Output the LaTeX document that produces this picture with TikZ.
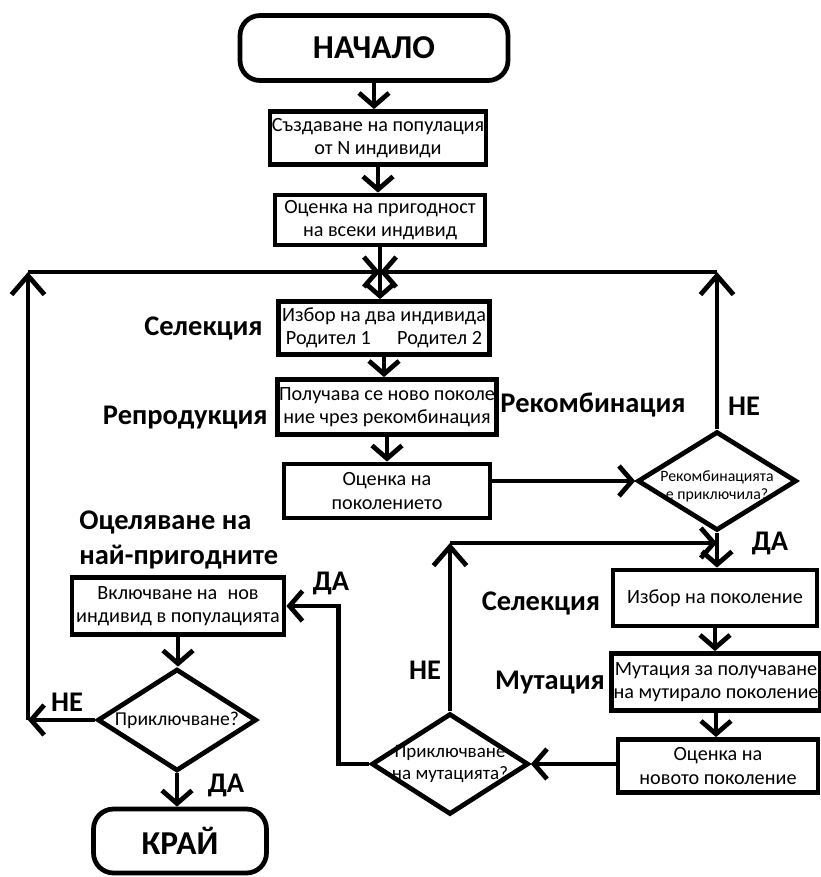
\documentclass[tikz,border=0pt]{standalone}
\usepackage{fontspec}
\setmainfont{Carlito}
\usetikzlibrary{arrows.meta,shapes.geometric}
\begin{document}
\begin{tikzpicture}[x=0.02cm, y=-0.02cm, line width=0.095cm]
\tikzstyle{box}=[draw, inner sep=1pt, align=center, font=\fontsize{11.5}{13.2}\selectfont]
\tikzstyle{term}=[draw, rounded corners=0.4cm, font=\fontsize{19}{22}\selectfont\bfseries]
\tikzstyle{cond}=[draw, diamond, inner sep=0pt, aspect=1.6, align=center]
\tikzstyle{lbl}=[inner sep=0pt, align=left, font=\fontsize{16.2}{19.8}\selectfont\bfseries]
\tikzstyle{arr}=[-{Straight Barb[length=0.26cm, width=0.6cm]}]
\tikzstyle{big}=[-{Straight Barb[length=0.38cm, width=0.66cm]}]
\newcommand{\nw}[1]{\makebox[0pt]{#1}}
\useasboundingbox (0,0) rectangle (821,877);

% main column
\node[term, minimum width=5.36cm, minimum height=1.3cm] (start) at (374,48) {НАЧАЛО};
\node[box, minimum width=4.18cm, minimum height=1.06cm] (pop) at (378,138) {Създаване на популация\\от N индивиди};
\node[box, minimum width=4.2cm, minimum height=1cm] (fit) at (380,220) {Оценка на пригодност\\на всеки индивид};
\node[box, minimum width=4.22cm, minimum height=1.06cm] (sel) at (384,328) {Избор на два индивида\\Родител 1\hspace{1.3em}Родител 2};
\node[box, minimum width=4.32cm, minimum height=1.1cm] (rep) at (387,407) {Получава се ново поколе\\ние чрез рекомбинация};
\node[box, minimum width=4.12cm, minimum height=1.08cm] (evalg) at (387,491) {Оценка на\\поколението};
\node[cond, minimum width=3.18cm, minimum height=1.98cm, font=\fontsize{9}{10.5}\selectfont] (d1) at (717,481) {\\[2pt]\nw{Рекомбинацията}\\\nw{е приключила?}};

% mutation column
\node[box, minimum width=4.08cm, minimum height=1.12cm] (sel2) at (715,598) {Избор на поколение};
\node[box, minimum width=4.04cm, minimum height=1.14cm] (mut) at (716,682) {Мутация за получаване\\на мутирало поколение};
\node[box, minimum width=4cm, minimum height=1.06cm] (eval2) at (718,766) {Оценка на\\новото поколение};
\node[cond, minimum width=3.14cm, minimum height=2.02cm, font=\fontsize{10.8}{12.5}\selectfont] (d2) at (450,764) {\nw{Приключване}\\\nw{на мутацията?}};

% survival and end
\node[box, minimum width=4.24cm, minimum height=1.14cm] (inc) at (178,606) {Включване на\enspace нов\\индивид в популацията};
\node[cond, minimum width=3.18cm, minimum height=2.04cm, font=\fontsize{11.2}{12}\selectfont] (d3) at (177,720) {\nw{Приключване?}};
\node[term, minimum width=3.46cm, minimum height=1.28cm] (end) at (180,841) {КРАЙ};

% labels
\node[lbl, anchor=east] (lsel) at (265,328) {Селекция};
\node[lbl, anchor=east] (lrep) at (270,418) {Репродукция};
\node[lbl] (lrec) at (593,405) {Рекомбинация};
\node[lbl] (lne1) at (744,406) {НЕ};
\node[lbl] (lda1) at (770,543) {ДА};
\node[lbl, anchor=west] (lsurv) at (77,540) {Оцеляване на\\най-пригодните};
\node[lbl] (lda2) at (331,583) {ДА};
\node[lbl] (lne3) at (67,702) {НЕ};
\node[lbl] (lda3) at (226,785) {ДА};
\node[lbl] (lsel2) at (541,603) {Селекция};
\node[lbl] (lmut) at (550,683) {Мутация};
\node[lbl] (lne2) at (425,670) {НЕ};

% junctions
\coordinate (jn) at (fit.south |- 0,272);
\coordinate (tl) at (28,272);
\coordinate (lc) at (d3.west -| 28,0);
\coordinate (tr) at (d1.north |- 0,272);
\coordinate (mj) at (d1.south |- 0,543);
\coordinate (ml) at (d2.north |- 0,543);

% connectors
\draw[arr] (start.south) -- (start.south |- pop.north);
\draw[arr] (pop.south) -- (pop.south |- fit.north);
\draw[arr] (fit.south) -- (fit.south |- sel.north);
\draw[arr] (sel.south) -- (sel.south |- rep.north);
\draw[arr] (rep.south) -- (rep.south |- evalg.north);
\draw[arr] (evalg.east |- d1.west) -- (d1.west);
\draw[big] (d1.north) -- (tr);
\draw[arr] (tr) -- (jn);
\draw[arr] (d1.south) -- (d1.south |- sel2.north);
\draw[arr] (sel2.south) -- (sel2.south |- mut.north);
\draw[arr] (mut.south) -- (mut.south |- eval2.north);
\draw[arr] (eval2.west |- d2.east) -- (d2.east);
\draw[big] (d2.north) -- (ml);
\draw[arr] (ml) -- (mj);
\draw[arr] (d2.west) -- ++(-31,0) |- (inc.east);
\draw[arr] (inc.south) -- (inc.south |- d3.north);
\draw[arr] (d3.south) -- (d3.south |- end.north);
\draw[arr] (d3.west) -- (lc);
\draw[big] (lc) -- (tl);
\draw[arr] (tl) -- (jn);
\end{tikzpicture}
\end{document}
